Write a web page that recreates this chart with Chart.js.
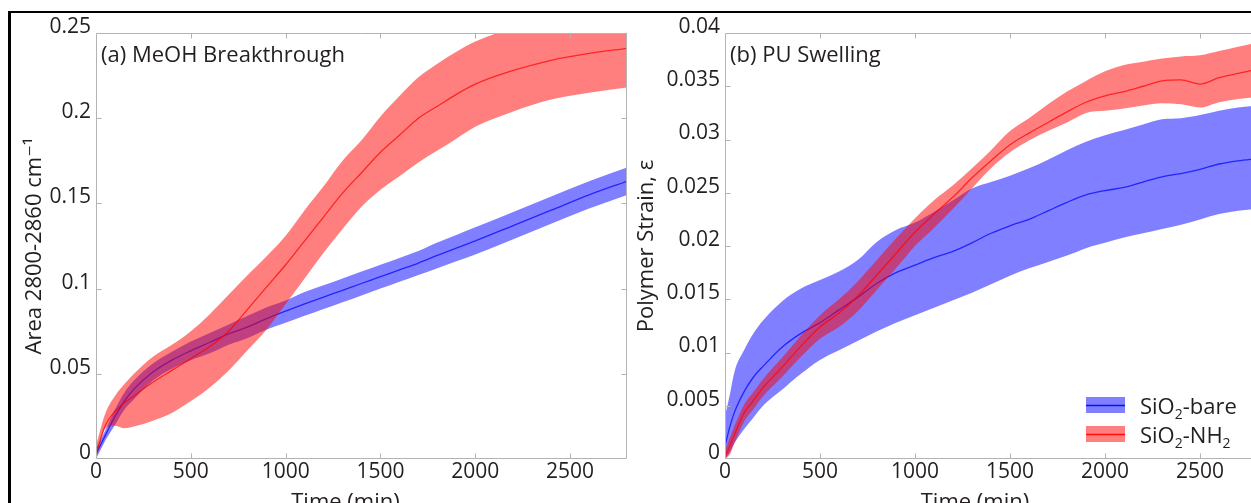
<!DOCTYPE html>
<html><head><meta charset="utf-8">
<script src="https://cdn.jsdelivr.net/npm/chart.js@4.4.0/dist/chart.umd.min.js"></script>
<style>
html,body{margin:0;padding:0;background:#fff;overflow:hidden;width:1251px;height:503px;}
#frame{position:absolute;left:8px;top:11px;width:1300px;height:600px;border-top:2px solid #000;border-left:3px solid #000;box-sizing:border-box;}
#wa{position:absolute;left:0;top:0;width:630px;height:503px;}
#wb{position:absolute;left:630px;top:0;width:640px;height:503px;}
canvas{display:block;}
</style></head><body>
<div id="frame"></div>
<div id="wa"><canvas id="ca" width="630" height="503"></canvas></div>
<div id="wb"><canvas id="cb" width="640" height="503"></canvas></div>
<script>
// ---------- data ----------
const seriesNames = ['SiO₂-bare', 'SiO₂-NH₂'];
const panelTitles = ['(a) MeOH Breakthrough', '(b) PU Swelling'];
const xTitle = 'Time (min)';
const yTitleA = 'Area 2800-2860 cm⁻¹';
const yTitleB = 'Polymer Strain, ε';

const xTickVals = [0, 500, 1000, 1500, 2000, 2500];
const xTickLabels = ['0', '500', '1000', '1500', '2000', '2500'];
const yTickValsA = [0, 0.05, 0.1, 0.15, 0.2, 0.25];
const yTickLabelsA = ['0', '0.05', '0.1', '0.15', '0.2', '0.25'];
const yTickValsB = [0, 0.005, 0.01, 0.015, 0.02, 0.025, 0.03, 0.035, 0.04];
const yTickLabelsB = ['0', '0.005', '0.01', '0.015', '0.02', '0.025', '0.03', '0.035', '0.04'];

// panel (a)
const timeA = [0,50,100,150,200,300,400,500,600,700,800,900,1000,1100,1200,1300,1400,1500,1600,1700,1800,1900,2000,2200,2400,2600,2800];
const bareMeanA  = [0.003,0.014,0.025,0.034,0.041,0.051,0.058,0.0635,0.0685,0.0735,0.0775,0.0824,0.0868,0.091,0.095,0.099,0.103,0.107,0.111,0.115,0.1195,0.1238,0.128,0.137,0.146,0.155,0.163];
const bareUpperA = [0.006,0.017,0.029,0.039,0.046,0.056,0.063,0.069,0.074,0.079,0.084,0.089,0.093,0.098,0.102,0.106,0.110,0.114,0.118,0.122,0.127,0.1315,0.136,0.145,0.154,0.163,0.171];
const bareLowerA = [0.000,0.011,0.020,0.029,0.035,0.046,0.053,0.058,0.062,0.067,0.071,0.076,0.080,0.084,0.088,0.092,0.096,0.100,0.104,0.108,0.112,0.116,0.120,0.129,0.138,0.147,0.155];
const nh2MeanA   = [0.003,0.020,0.028,0.033,0.037,0.045,0.052,0.059,0.066,0.075,0.088,0.101,0.114,0.128,0.142,0.156,0.168,0.180,0.190,0.200,0.207,0.214,0.220,0.228,0.234,0.238,0.241];
const nh2UpperA  = [0.008,0.027,0.037,0.044,0.050,0.060,0.067,0.075,0.085,0.0965,0.108,0.119,0.131,0.146,0.160,0.175,0.187,0.201,0.213,0.224,0.232,0.239,0.245,0.253,0.259,0.263,0.266];
const nh2LowerA  = [0.000,0.018,0.0195,0.018,0.019,0.0225,0.027,0.034,0.042,0.052,0.064,0.076,0.091,0.106,0.121,0.135,0.148,0.158,0.166,0.174,0.181,0.188,0.195,0.204,0.211,0.215,0.218];

// panel (b)
const timeB = [0,25,50,100,150,200,300,400,500,600,700,800,900,1000,1100,1200,1300,1400,1500,1600,1700,1800,1900,2000,2100,2200,2300,2400,2500,2600,2700,2800];
const bareMeanB  = [0.0012,0.0030,0.0044,0.0063,0.0077,0.0087,0.0105,0.0118,0.0128,0.0140,0.0152,0.0165,0.0175,0.0182,0.0189,0.0195,0.0203,0.0212,0.0219,0.0225,0.0233,0.0241,0.0248,0.0252,0.0255,0.0260,0.0265,0.0268,0.0272,0.0277,0.0280,0.0282];
const bareUpperB = [0.0040,0.0060,0.0082,0.0102,0.0118,0.0130,0.0148,0.0160,0.0168,0.0176,0.0187,0.0204,0.0215,0.0222,0.0232,0.0243,0.0254,0.0260,0.0266,0.0273,0.0281,0.0290,0.0298,0.0304,0.0309,0.0314,0.0319,0.0320,0.0323,0.0327,0.0330,0.0332];
const bareLowerB = [0.0000,0.0006,0.0015,0.0028,0.0039,0.0050,0.0065,0.0080,0.0093,0.0102,0.0111,0.0120,0.0128,0.0135,0.0142,0.0149,0.0156,0.0164,0.0172,0.0179,0.0185,0.0191,0.0198,0.0203,0.0208,0.0212,0.0216,0.0220,0.0225,0.0230,0.0233,0.0235];
const nh2MeanB   = [0.0002,0.0012,0.0023,0.0043,0.0055,0.0067,0.0086,0.0106,0.0124,0.0137,0.0153,0.0173,0.0193,0.0213,0.0230,0.0246,0.0264,0.0280,0.0295,0.0306,0.0316,0.0326,0.0335,0.0341,0.0345,0.0350,0.0355,0.0356,0.0352,0.0358,0.0362,0.0366];
const nh2UpperB  = [0.0008,0.0020,0.0031,0.0051,0.0063,0.0075,0.0095,0.0116,0.0135,0.0150,0.0167,0.0187,0.0207,0.0226,0.0243,0.0257,0.0273,0.0290,0.0308,0.0320,0.0333,0.0345,0.0355,0.0364,0.0370,0.0373,0.0376,0.0378,0.0379,0.0383,0.0387,0.0391];
const nh2LowerB  = [0.0000,0.0004,0.0015,0.0035,0.0047,0.0059,0.0077,0.0096,0.0113,0.0124,0.0139,0.0159,0.0179,0.0200,0.0217,0.0235,0.0254,0.0273,0.0288,0.0299,0.0308,0.0316,0.0325,0.0327,0.0329,0.0332,0.0334,0.0333,0.0330,0.0335,0.0338,0.0340];

// ---------- styling ----------
const FONT = '"Open Sans", "DejaVu Sans", sans-serif';
const TXT = '#231f20';
const AXIS = '#b3b3b3';
const RGB = {bare: '0,0,255', nh2: '255,0,0'};

function pts(t, v) { return t.map((x, i) => ({x: x, y: v[i]})); }
function band(name, t, mean, up, lo, rgb) {
  return [
    {label: name, data: pts(t, mean), borderColor: `rgba(${rgb},0.72)`, borderWidth: 1.3, pointRadius: 0, fill: false, cubicInterpolationMode: 'monotone'},
    {label: name + ' upper', data: pts(t, up), borderWidth: 0, borderColor: 'rgba(0,0,0,0)', pointRadius: 0, fill: '+1', backgroundColor: `rgba(${rgb},0.5)`, cubicInterpolationMode: 'monotone'},
    {label: name + ' lower', data: pts(t, lo), borderWidth: 0, borderColor: 'rgba(0,0,0,0)', pointRadius: 0, fill: false, cubicInterpolationMode: 'monotone'}
  ];
}

const framePlugin = {
  id: 'frameTicks',
  afterDatasetsDraw(chart, args, opts) {
    const {ctx, chartArea: a, scales} = chart;
    const L = Math.round(a.left) + 0.5, R = Math.round(a.right) - 0.5, T = Math.round(a.top) + 0.5, B = Math.round(a.bottom) - 0.5;
    ctx.save();
    ctx.strokeStyle = AXIS; ctx.lineWidth = 1;
    ctx.beginPath();
    ctx.rect(L, T, R - L, B - T);
    const tl = 5;
    scales.x.ticks.forEach(tk => {
      const px = Math.round(scales.x.getPixelForValue(tk.value)) + 0.5;
      if (px <= L + 1 || px >= R - 1) return;
      ctx.moveTo(px, B); ctx.lineTo(px, B - tl);
      ctx.moveTo(px, T); ctx.lineTo(px, T + tl);
    });
    scales.y.ticks.forEach(tk => {
      const py = Math.round(scales.y.getPixelForValue(tk.value)) + 0.5;
      if (py <= T + 1 || py >= B - 1) return;
      ctx.moveTo(L, py); ctx.lineTo(L + tl, py);
      ctx.moveTo(R, py); ctx.lineTo(R - tl, py);
    });
    ctx.stroke();
    // panel title
    ctx.fillStyle = TXT;
    ctx.font = '22px ' + FONT;
    ctx.textAlign = 'left'; ctx.textBaseline = 'alphabetic';
    ctx.fillText(opts.title, a.left + 5, 62);
    // x axis title
    ctx.textAlign = 'center';
    ctx.fillText(xTitle, (a.left + a.right) / 2 - 16, 509);
    ctx.restore();
  }
};

function drawRich(ctx, text, x, y) {
  // draws text, rendering '₂' as a lowered small 2
  let cx = x;
  for (const ch of text) {
    if (ch === '₂') {
      ctx.font = '14px ' + FONT;
      ctx.fillText('2', cx, y + 5);
      cx += ctx.measureText('2').width;
    } else {
      ctx.font = '22px ' + FONT;
      ctx.fillText(ch, cx, y);
      cx += ctx.measureText(ch).width;
    }
  }
}

const legendPlugin = {
  id: 'bandLegend',
  afterDraw(chart) {
    const ctx = chart.ctx;
    const rows = [{name: seriesNames[0], rgb: RGB.bare, cy: 405}, {name: seriesNames[1], rgb: RGB.nh2, cy: 434}];
    ctx.save();
    rows.forEach(r => {
      ctx.fillStyle = `rgba(${r.rgb},0.5)`;
      ctx.fillRect(456, r.cy - 8, 39, 16);
      ctx.strokeStyle = `rgba(${r.rgb},0.9)`;
      ctx.lineWidth = 1.3;
      ctx.beginPath(); ctx.moveTo(456, r.cy + 0.5); ctx.lineTo(495, r.cy + 0.5); ctx.stroke();
      ctx.fillStyle = TXT; ctx.textAlign = 'left'; ctx.textBaseline = 'alphabetic';
      drawRich(ctx, r.name, 510, r.cy + 9);
    });
    ctx.restore();
  }
};

function makeChart(id, datasets, yMin, yMax, yVals, yLabels, yTitle, yWidth, rightPad, titlePadTop, panelTitle, extraPlugins) {
  return new Chart(document.getElementById(id), {
    type: 'line',
    data: {datasets},
    plugins: [framePlugin].concat(extraPlugins),
    options: {
      responsive: false, animation: false, events: [],
      layout: {padding: {top: 33, right: rightPad, bottom: 0, left: 0}},
      plugins: {legend: {display: false}, tooltip: {enabled: false}, frameTicks: {title: panelTitle}},
      scales: {
        x: {
          type: 'linear', min: 0, max: 2800,
          afterBuildTicks: s => { s.ticks = xTickVals.map(v => ({value: v})); },
          afterFit: s => { s.height = 44; },
          grid: {display: false, drawTicks: false}, border: {display: false},
          ticks: {padding: 0, maxRotation: 0, autoSkip: false, color: TXT, font: {family: FONT, size: 21},
                  callback: (v, i) => xTickLabels[i]}
        },
        y: {
          type: 'linear', min: yMin, max: yMax,
          afterBuildTicks: s => { s.ticks = yVals.map(v => ({value: v})); },
          afterFit: s => { s.width = yWidth; },
          grid: {display: false, drawTicks: false}, border: {display: false},
          ticks: {padding: 5, labelOffset: -6, autoSkip: false, color: TXT, font: {family: FONT, size: 21},
                  callback: (v, i) => yLabels[i]},
          title: {display: true, text: yTitle, color: TXT, font: {family: FONT, size: 22}, padding: {top: titlePadTop, bottom: 0}}
        }
      }
    }
  });
}

// red datasets first so they are drawn on top
makeChart('ca',
  band(seriesNames[1], timeA, nh2MeanA, nh2UpperA, nh2LowerA, RGB.nh2).concat(
  band(seriesNames[0], timeA, bareMeanA, bareUpperA, bareLowerA, RGB.bare)),
  0, 0.25, yTickValsA, yTickLabelsA, yTitleA, 96, 3, 22, panelTitles[0], []);

makeChart('cb',
  band(seriesNames[1], timeB, nh2MeanB, nh2UpperB, nh2LowerB, RGB.nh2).concat(
  band(seriesNames[0], timeB, bareMeanB, bareUpperB, bareLowerB, RGB.bare)),
  0, 0.04, yTickValsB, yTickLabelsB, yTitleB, 95, 13, 4, panelTitles[1], [legendPlugin]);
</script>
</body></html>
